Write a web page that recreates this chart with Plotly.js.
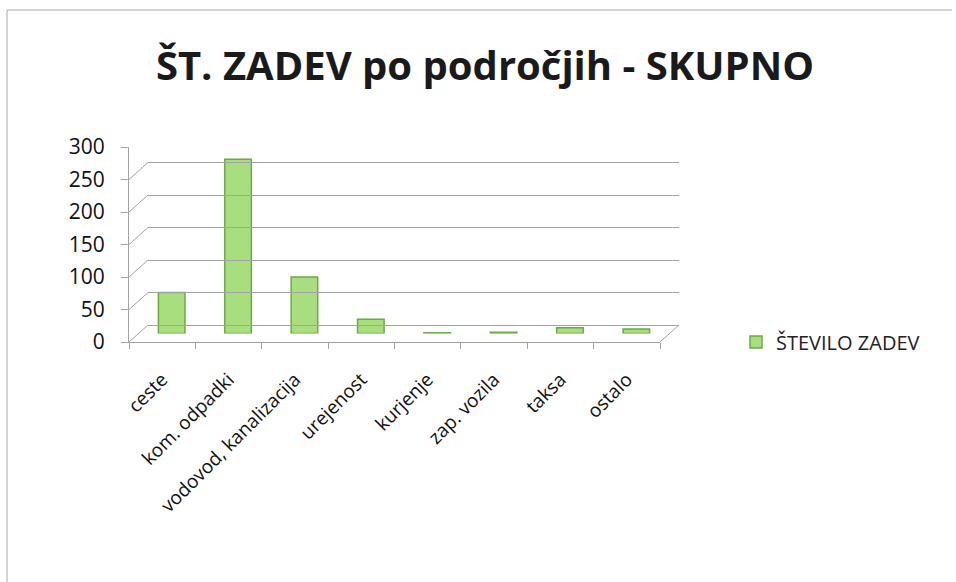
<!DOCTYPE html>
<html>
<head>
<meta charset="utf-8">
<script src="https://cdn.plot.ly/plotly-3.0.1.min.js"></script>
<style>html,body{margin:0;padding:0;background:#fff;}#chart{width:956px;height:582px;}</style>
</head>
<body>
<div id="chart"></div>
<script>
const categories = ["ceste", "kom. odpadki", "vodovod, kanalizacija", "urejenost", "kurjenje", "zap. vozila", "taksa", "ostalo"];
const values = [63, 268, 87, 22, 1, 2, 9, 7];
const seriesName = "ŠTEVILO ZADEV";
const yTicks = [0, 50, 100, 150, 200, 250, 300];
const titleText = "ŠT. ZADEV po področjih - SKUPNO";

const W = 956, H = 582;
const px = x => x / W;
const py = y => (H - y) / H;
const FONT = "Open Sans, Carlito, sans-serif";

// front (axis 1), mid-depth (axis 2, bars), back wall (axis 3, gridlines)
const front = {x0: 129, x1: 660, yb: 342, yt: 147};
const dx = 19, dy = 17;
const GRID = "#a3a3a3";

const traces = [
  {type: "bar", x: categories, y: values, name: seriesName, xaxis: "x2", yaxis: "y2",
   width: 0.4,
   marker: {color: "#a8de7e", line: {color: "#6fa84a", width: 1.5}},
   showlegend: true},
  {type: "scatter", x: categories, y: values.map(() => null), xaxis: "x3", yaxis: "y3",
   showlegend: false, hoverinfo: "skip"},
  {type: "scatter", x: categories, y: values.map(() => null), xaxis: "x", yaxis: "y",
   showlegend: false, hoverinfo: "skip"}
];

const shapes = [];
yTicks.forEach(v => {
  shapes.push({type: "line", xref: "paper", yref: "y", ysizemode: "pixel", yanchor: v,
    x0: px(front.x0), x1: px(front.x0 + dx), y0: 0, y1: dy,
    line: {color: GRID, width: 1}});
});
shapes.push({type: "line", xref: "paper", yref: "y", ysizemode: "pixel", yanchor: 0,
  x0: px(front.x1), x1: px(front.x1 + dx), y0: 0, y1: dy, line: {color: GRID, width: 1}});
// chart frame (left and top edges visible in the reference)
shapes.push({type: "line", xref: "paper", yref: "paper", x0: px(7), x1: px(7), y0: 0, y1: py(10),
  line: {color: "#c4c4c4", width: 1.5}});
shapes.push({type: "line", xref: "paper", yref: "paper", x0: px(7), x1: px(952), y0: py(10), y1: py(10),
  line: {color: "#c4c4c4", width: 1.5}});

const layout = {
  width: W, height: H,
  margin: {l: 0, r: 0, t: 0, b: 0},
  paper_bgcolor: "#ffffff", plot_bgcolor: "rgba(0,0,0,0)",
  title: {text: "<b>" + titleText + "</b>", x: px(485), xanchor: "center", y: py(66), yanchor: "middle",
          font: {family: FONT, size: 40, color: "#1a1a1a"}},
  showlegend: true,
  legend: {x: px(736), y: py(342), xanchor: "left", yanchor: "middle",
           font: {family: FONT, size: 20, color: "#222"}, bgcolor: "rgba(0,0,0,0)"},
  xaxis: {domain: [px(front.x0), px(front.x1)], anchor: "y", type: "category", range: [-0.5, 7.5],
          tickangle: -45, tickfont: {family: FONT, size: 19, color: "#111"},
          ticklabelstandoff: 18,
          showline: true, linecolor: GRID, linewidth: 1,
          ticks: "outside", ticklen: 6, tickcolor: GRID, tickson: "boundaries",
          showgrid: false, zeroline: false, fixedrange: true},
  yaxis: {domain: [py(front.yb), py(front.yt)], anchor: "x", range: [0, 300], tickvals: yTicks,
          tickfont: {family: FONT, size: 21, color: "#111"},
          ticklabelstandoff: 12,
          showline: true, linecolor: GRID, linewidth: 1,
          ticks: "outside", ticklen: 7, tickcolor: GRID,
          showgrid: false, zeroline: false, fixedrange: true},
  xaxis2: {domain: [px(front.x0 + dx/2), px(front.x1 + dx/2)], anchor: "y2", type: "category", range: [-0.5, 7.5],
           showticklabels: false, showgrid: false, zeroline: false, showline: false, ticks: ""},
  yaxis2: {domain: [py(front.yb - dy/2), py(front.yt - dy/2)], anchor: "x2", range: [0, 300],
           showticklabels: false, showgrid: false, zeroline: false, showline: false, ticks: ""},
  xaxis3: {domain: [px(front.x0 + dx), px(front.x1 + dx)], anchor: "y3", type: "category", range: [-0.5, 7.5],
           showticklabels: false, showgrid: false, zeroline: false, showline: false, ticks: ""},
  yaxis3: {domain: [py(front.yb - dy), py(front.yt - dy)], anchor: "x3", range: [0, 300], tickvals: yTicks,
           showticklabels: false, showgrid: true, gridcolor: GRID, gridwidth: 1,
           zeroline: true, zerolinecolor: GRID, zerolinewidth: 1, showline: false, ticks: ""},
  shapes: shapes
};

Plotly.newPlot("chart", traces, layout, {displayModeBar: false, staticPlot: true});
</script>
</body>
</html>
